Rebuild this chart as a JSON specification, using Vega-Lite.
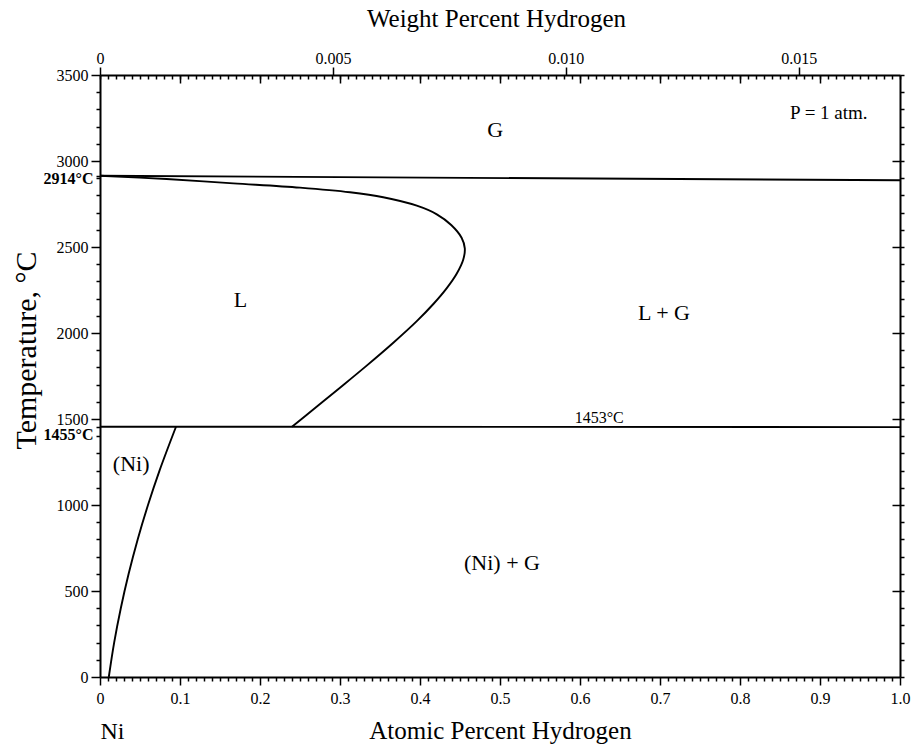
{
  "$schema": "https://vega.github.io/schema/vega-lite/v6.json",
  "width": 800,
  "height": 602,
  "autosize": {"type": "none"},
  "padding": {"left": 100, "top": 75, "right": 14, "bottom": 71},
  "background": "white",
  "config": {
    "view": {"stroke": null},
    "font": "Liberation Serif",
    "axis": {
      "grid": false,
      "domainColor": "black",
      "domainWidth": 2,
      "tickColor": "black",
      "tickWidth": 1.5,
      "labelColor": "black",
      "titleColor": "black",
      "labelFont": "Liberation Serif",
      "titleFont": "Liberation Serif",
      "labelFontSize": 16,
      "titleFontSize": 25,
      "titleFontWeight": "normal",
      "labelOverlap": false,
      "labelFlush": false
    }
  },
  "datasets": {
    "curves": [
      {"series": "top", "o": 0, "at": 0, "T": 2914},
      {"series": "top", "o": 1, "at": 1, "T": 2888},
      {"series": "liq", "o": 0, "at": 0, "T": 2914},
      {"series": "liq", "o": 1, "at": 0.0833, "T": 2895},
      {"series": "liq", "o": 2, "at": 0.1667, "T": 2870},
      {"series": "liq", "o": 3, "at": 0.25, "T": 2845},
      {"series": "liq", "o": 4, "at": 0.3125, "T": 2818},
      {"series": "liq", "o": 5, "at": 0.354, "T": 2789},
      {"series": "liq", "o": 6, "at": 0.396, "T": 2740},
      {"series": "liq", "o": 7, "at": 0.421, "T": 2690},
      {"series": "liq", "o": 8, "at": 0.439, "T": 2628},
      {"series": "liq", "o": 9, "at": 0.452, "T": 2554},
      {"series": "liq", "o": 10, "at": 0.456, "T": 2492},
      {"series": "liq", "o": 11, "at": 0.454, "T": 2426},
      {"series": "liq", "o": 12, "at": 0.446, "T": 2346},
      {"series": "liq", "o": 13, "at": 0.433, "T": 2258},
      {"series": "liq", "o": 14, "at": 0.417, "T": 2170},
      {"series": "liq", "o": 15, "at": 0.396, "T": 2069},
      {"series": "liq", "o": 16, "at": 0.367, "T": 1945},
      {"series": "liq", "o": 17, "at": 0.333, "T": 1809},
      {"series": "liq", "o": 18, "at": 0.30, "T": 1682},
      {"series": "liq", "o": 19, "at": 0.27, "T": 1568},
      {"series": "liq", "o": 20, "at": 0.24, "T": 1455},
      {"series": "eut", "o": 0, "at": 0, "T": 1455},
      {"series": "eut", "o": 1, "at": 1, "T": 1453},
      {"series": "sol", "o": 0, "at": 0.095, "T": 1455},
      {"series": "sol", "o": 1, "at": 0.0744, "T": 1200},
      {"series": "sol", "o": 2, "at": 0.0600, "T": 1000},
      {"series": "sol", "o": 3, "at": 0.0471, "T": 800},
      {"series": "sol", "o": 4, "at": 0.0358, "T": 600},
      {"series": "sol", "o": 5, "at": 0.0260, "T": 400},
      {"series": "sol", "o": 6, "at": 0.0177, "T": 200},
      {"series": "sol", "o": 7, "at": 0.011, "T": 0}
    ],
    "labels": [
      {"label": "G", "at": 0.494, "T": 3140},
      {"label": "L", "at": 0.1756, "T": 2151},
      {"label": "L + G", "at": 0.705, "T": 2076},
      {"label": "(Ni)", "at": 0.039, "T": 1197},
      {"label": "(Ni) + G", "at": 0.5025, "T": 622},
      {"label": "P = 1 atm.", "at": 0.911, "T": 3244},
      {"label": "1453°C", "at": 0.624, "T": 1477},
      {"label": "Ni", "at": 0.0156, "T": -360}
    ],
    "wtaxis": [{"wt": 0}]
  },
  "layer": [
    {
      "data": {"name": "curves"},
      "mark": {"type": "line", "color": "black", "strokeWidth": 1.9, "interpolate": "catmull-rom"},
      "encoding": {
        "x": {"field": "at", "type": "quantitative", "scale": {"domain": [0, 1], "nice": false, "zero": false}, "axis": null},
        "y": {"field": "T", "type": "quantitative", "scale": {"domain": [0, 3500], "nice": false, "zero": false}, "axis": null},
        "detail": {"field": "series"},
        "order": {"field": "o"}
      }
    },
    {
      "data": {"name": "labels"},
      "transform": [{"filter": {"field": "label", "oneOf": ["G", "L", "L + G", "(Ni)", "(Ni) + G"]}}],
      "mark": {"type": "text", "fontSize": 22, "font": "Liberation Serif", "color": "black", "baseline": "alphabetic", "align": "center"},
      "encoding": {
        "x": {"field": "at", "type": "quantitative", "scale": {"domain": [0, 1], "nice": false, "zero": false}, "axis": null},
        "y": {"field": "T", "type": "quantitative", "scale": {"domain": [0, 3500], "nice": false, "zero": false}, "axis": null},
        "text": {"field": "label"}
      }
    },
    {
      "data": {"name": "labels"},
      "transform": [{"filter": {"field": "label", "equal": "P = 1 atm."}}],
      "mark": {"type": "text", "fontSize": 19, "font": "Liberation Serif", "color": "black", "baseline": "alphabetic", "align": "center"},
      "encoding": {
        "x": {"field": "at", "type": "quantitative", "scale": {"domain": [0, 1], "nice": false, "zero": false}, "axis": null},
        "y": {"field": "T", "type": "quantitative", "scale": {"domain": [0, 3500], "nice": false, "zero": false}, "axis": null},
        "text": {"field": "label"}
      }
    },
    {
      "data": {"name": "labels"},
      "transform": [{"filter": {"field": "label", "equal": "1453°C"}}],
      "mark": {"type": "text", "fontSize": 16, "font": "Liberation Serif", "color": "black", "baseline": "alphabetic", "align": "center"},
      "encoding": {
        "x": {"field": "at", "type": "quantitative", "scale": {"domain": [0, 1], "nice": false, "zero": false}, "axis": null},
        "y": {"field": "T", "type": "quantitative", "scale": {"domain": [0, 3500], "nice": false, "zero": false}, "axis": null},
        "text": {"field": "label"}
      }
    },
    {
      "data": {"name": "labels"},
      "transform": [{"filter": {"field": "label", "equal": "Ni"}}],
      "mark": {"type": "text", "fontSize": 24, "font": "Liberation Serif", "color": "black", "baseline": "alphabetic", "align": "center", "clip": false},
      "encoding": {
        "x": {"field": "at", "type": "quantitative", "scale": {"domain": [0, 1], "nice": false, "zero": false}, "axis": null},
        "y": {"field": "T", "type": "quantitative", "scale": {"domain": [0, 3500], "nice": false, "zero": false}, "axis": null},
        "text": {"field": "label"}
      }
    },
    {
      "data": {"name": "curves"},
      "mark": {"type": "point", "opacity": 0},
      "encoding": {
        "x": {
          "field": "at", "type": "quantitative",
          "scale": {"domain": [0, 1], "nice": false, "zero": false},
          "axis": {
            "orient": "bottom",
            "title": "Atomic Percent Hydrogen",
            "titleX": 400,
            "titleY": 61,
            "titleBaseline": "alphabetic",
            "values": [0,0.01,0.02,0.03,0.04,0.05,0.06,0.07,0.08,0.09,0.1,0.11,0.12,0.13,0.14,0.15,0.16,0.17,0.18,0.19,0.2,0.21,0.22,0.23,0.24,0.25,0.26,0.27,0.28,0.29,0.3,0.31,0.32,0.33,0.34,0.35,0.36,0.37,0.38,0.39,0.4,0.41,0.42,0.43,0.44,0.45,0.46,0.47,0.48,0.49,0.5,0.51,0.52,0.53,0.54,0.55,0.56,0.57,0.58,0.59,0.6,0.61,0.62,0.63,0.64,0.65,0.66,0.67,0.68,0.69,0.7,0.71,0.72,0.73,0.74,0.75,0.76,0.77,0.78,0.79,0.8,0.81,0.82,0.83,0.84,0.85,0.86,0.87,0.88,0.89,0.9,0.91,0.92,0.93,0.94,0.95,0.96,0.97,0.98,0.99,1],
            "labelExpr": "abs(datum.value*10-round(datum.value*10))<1e-6 ? (datum.value==0 ? '0' : format(datum.value, '.1f')) : ''",
            "tickSize": {"condition": {"test": "abs(datum.value*10-round(datum.value*10))<1e-6", "value": 8}, "value": 4},
            "labelBaseline": "alphabetic",
            "labelPadding": 18
          }
        },
        "y": {
          "field": "T", "type": "quantitative",
          "scale": {"domain": [0, 3500], "nice": false, "zero": false},
          "axis": {
            "orient": "left",
            "title": "Temperature, °C",
            "titleFontSize": 30,
            "titleAngle": -90,
            "titleX": -74,
            "titleY": 275,
            "titleAlign": "center",
            "titleBaseline": "middle",
            "values": [0,100,200,300,400,500,600,700,800,900,1000,1100,1200,1300,1400,1455,1500,1600,1700,1800,1900,2000,2100,2200,2300,2400,2500,2600,2700,2800,2900,2914,3000,3100,3200,3300,3400,3500],
            "labelExpr": "datum.value==2914 ? '2914°C' : datum.value==1455 ? '1455°C' : (datum.value%500==0 ? format(datum.value,'d') : '')",
            "labelFontWeight": {"condition": {"test": "datum.value==2914 || datum.value==1455", "value": "bold"}, "value": "normal"},
            "labelOffset": {"condition": [{"test": "datum.value==1455", "value": 8}, {"test": "datum.value==2914", "value": 2.5}], "value": 0},
            "tickSize": {"condition": {"test": "datum.value%500==0", "value": 9}, "value": 4},
            "labelPadding": 3
          }
        }
      }
    },
    {
      "data": {"name": "curves"},
      "mark": {"type": "point", "opacity": 0},
      "encoding": {
        "x": {
          "field": "at", "type": "quantitative",
          "scale": {"domain": [0, 1], "nice": false, "zero": false},
          "axis": {
            "orient": "top",
            "title": null,
            "labels": false,
            "domain": false,
            "offset": -4,
            "tickSize": 4,
            "values": [0,0.01,0.02,0.03,0.04,0.05,0.06,0.07,0.08,0.09,0.1,0.11,0.12,0.13,0.14,0.15,0.16,0.17,0.18,0.19,0.2,0.21,0.22,0.23,0.24,0.25,0.26,0.27,0.28,0.29,0.3,0.31,0.32,0.33,0.34,0.35,0.36,0.37,0.38,0.39,0.4,0.41,0.42,0.43,0.44,0.45,0.46,0.47,0.48,0.49,0.5,0.51,0.52,0.53,0.54,0.55,0.56,0.57,0.58,0.59,0.6,0.61,0.62,0.63,0.64,0.65,0.66,0.67,0.68,0.69,0.7,0.71,0.72,0.73,0.74,0.75,0.76,0.77,0.78,0.79,0.8,0.81,0.82,0.83,0.84,0.85,0.86,0.87,0.88,0.89,0.9,0.91,0.92,0.93,0.94,0.95,0.96,0.97,0.98,0.99,1]
          }
        },
        "y": {
          "field": "T", "type": "quantitative",
          "scale": {"domain": [0, 3500], "nice": false, "zero": false},
          "axis": {
            "orient": "right",
            "title": null,
            "labels": false,
            "tickSize": 4,
            "values": [0,100,200,300,400,500,600,700,800,900,1000,1100,1200,1300,1400,1500,1600,1700,1800,1900,2000,2100,2200,2300,2400,2500,2600,2700,2800,2900,3000,3100,3200,3300,3400,3500]
          }
        }
      }
    },
    {
      "data": {"name": "curves"},
      "mark": {"type": "point", "opacity": 0},
      "encoding": {
        "x": {
          "field": "at", "type": "quantitative",
          "scale": {"domain": [0, 1], "nice": false, "zero": false},
          "axis": {
            "orient": "top",
            "title": null,
            "labels": false,
            "domain": false,
            "offset": -8,
            "tickSize": 8,
            "values": [0.1,0.2,0.3,0.4,0.5,0.6,0.7,0.8,0.9]
          }
        },
        "y": {
          "field": "T", "type": "quantitative",
          "scale": {"domain": [0, 3500], "nice": false, "zero": false},
          "axis": {
            "orient": "right",
            "title": null,
            "labels": false,
            "domain": false,
            "offset": -8,
            "tickSize": 8,
            "values": [500,1000,1500,2000,2500,3000]
          }
        }
      }
    },
    {
      "data": {"name": "wtaxis"},
      "mark": {"type": "point", "opacity": 0},
      "encoding": {
        "x": {
          "field": "wt", "type": "quantitative",
          "scale": {"domain": [0, 0.017175], "nice": false, "zero": false},
          "axis": {
            "orient": "top",
            "title": "Weight Percent Hydrogen",
            "titleX": 396,
            "titleY": -49,
            "titleBaseline": "alphabetic",
            "values": [0, 0.005, 0.01, 0.015],
            "labelExpr": "datum.value==0 ? '0' : format(datum.value, '.3f')",
            "tickSize": 8,
            "labelBaseline": "alphabetic",
            "labelPadding": 4
          }
        }
      }
    }
  ],
  "resolve": {"scale": {"x": "independent", "y": "independent"}}
}
